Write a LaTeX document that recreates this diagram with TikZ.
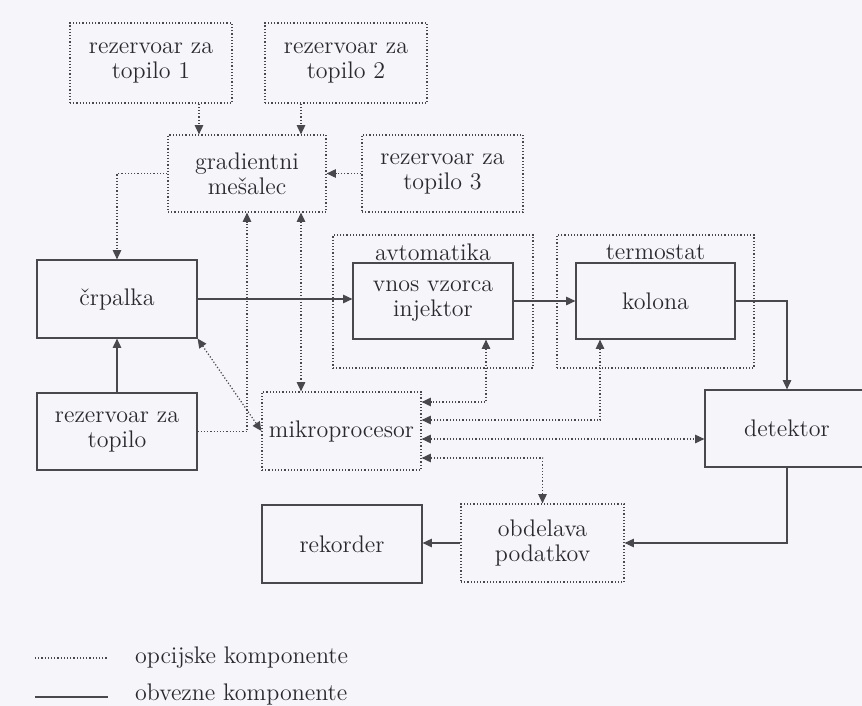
\documentclass[tikz,border=0pt]{standalone}
\usepackage{fontspec}
\usetikzlibrary{arrows.meta,positioning}
\definecolor{ink}{rgb}{0.16,0.16,0.18}
\definecolor{paper}{rgb}{0.965,0.965,0.98}

\begin{document}
\begin{tikzpicture}[x=0.5pt,y=-0.5pt,
    font=\fontsize{12}{12.5}\selectfont, text=ink,
    >={Triangle[length=4.6pt,width=4.2pt]},
    box/.style={draw=ink!85, line width=0.6pt, align=center, inner sep=0pt},
    obox/.style={box, densely dotted},
    link/.style={draw=ink!85, line width=0.6pt},
    olink/.style={link, densely dotted}]
  \useasboundingbox[fill=paper] (0,0) rectangle (862,706);

  % groups
  \node[obox, minimum width=100pt, minimum height=66.5pt] (avt) at (433,301.5) {};
  \node[obox, minimum width=98.5pt, minimum height=66.5pt] (term) at (655.5,301.5) {};
  \node (avtl) at (433,252) {avtomatika};
  \node (terml) at (655.5,252) {termostat};

  % components
  \node[obox, minimum width=81pt, minimum height=40pt] (r1) at (151,63) {rezervoar za\\topilo 1};
  \node[obox, minimum width=81pt, minimum height=40pt] (r2) at (346,63) {rezervoar za\\topilo 2};
  \node[obox, minimum width=79pt, minimum height=38.5pt] (mix) at (247,173.5) {gradientni\\mešalec};
  \node[obox, minimum width=80.5pt, minimum height=38.5pt] (r3) at (442.5,173.5) {rezervoar za\\topilo 3};
  \node[box, minimum width=80pt, minimum height=39pt] (crp) at (117,299) {črpalka};
  \node[box, minimum width=80pt, minimum height=38pt] (vnos) at (433,301) {vnos vzorca\\injektor};
  \node[box, minimum width=79.5pt, minimum height=38pt] (kol) at (655.5,301) {kolona};
  \node[box, minimum width=80pt, minimum height=38.5pt] (rez) at (117,431.5) {rezervoar za\\topilo};
  \node[obox, minimum width=79.5pt, minimum height=39pt] (mik) at (341.5,431) {mikroprocesor};
  \node[box, minimum width=82pt, minimum height=38.5pt] (det) at (787,428.5) {detektor};
  \node[box, minimum width=80pt, minimum height=39pt] (rek) at (342,544) {rekorder};
  \node[obox, minimum width=81.5pt, minimum height=39pt] (obd) at (542.5,543) {obdelava\\podatkov};

  % lanes
  \coordinate (xa) at (199,0);
  \coordinate (xb) at (301,0);
  \coordinate (xe) at (486,0);
  \coordinate (xf) at (600,0);
  \coordinate (ya) at (0,402);
  \coordinate (yb) at (0,420);
  \coordinate (yc) at (0,439);
  \coordinate (yd) at (0,458);

  % optional connections
  \draw[olink,->] (r1.south -| xa) -- (mix.north -| xa);
  \draw[olink,->] (r2.south -| xb) -- (mix.north -| xb);
  \draw[olink,->] (r3.west) -- (mix.east);
  \draw[olink,->] (mix.west) -| (crp.north);
  \draw[olink,->] (rez.east) -| (mix.south);
  \draw[olink,<->] (mix.south -| xb) -- (mik.north -| xb);
  \draw[olink,<->] (crp.south east) -- (mik.west);
  \draw[olink,<->] (vnos.south -| xe) |- (mik.east |- ya);
  \draw[olink,<->] (kol.south -| xf) |- (mik.east |- yb);
  \draw[olink,<->] (mik.east |- yc) -- (det.west |- yc);
  \draw[olink,<->] (mik.east |- yd) -| (obd.north);

  % required connections
  \draw[link,->] (rez.north) -- (crp.south);
  \draw[link,->] (crp.east) -- (crp.east -| vnos.west);
  \draw[link,->] (vnos.east) -- (kol.west);
  \draw[link,->] (kol.east) -| (det.north);
  \draw[link,->] (det.south) |- (obd.east);
  \draw[link,->] (obd.west) -- (obd.west -| rek.east);

  % legend
  \coordinate (l1a) at (35,658);
  \coordinate (l1b) at (108,658);
  \coordinate (l2a) at (35,697);
  \coordinate (l2b) at (108,697);
  \draw[olink] (l1a) -- (l1b);
  \draw[link] (l2a) -- (l2b);
  \node[anchor=west] (l1t) at (128,658) {opcijske komponente};
  \node[anchor=west] (l2t) at (128,694) {obvezne komponente};
\end{tikzpicture}
\end{document}
